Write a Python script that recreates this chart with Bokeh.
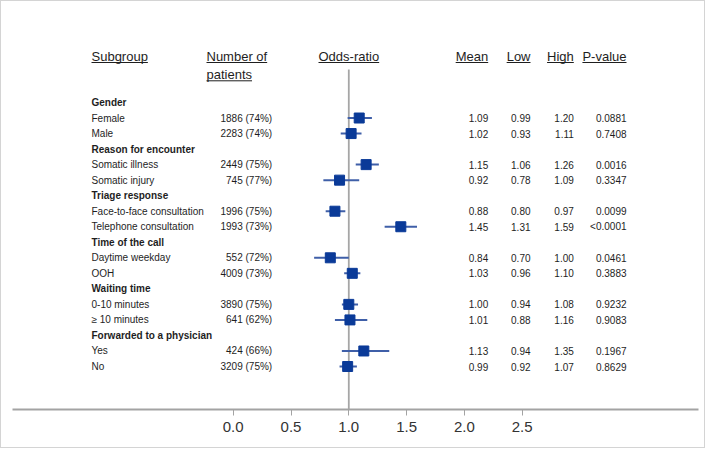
from bokeh.plotting import figure
from bokeh.models import Range1d, FixedTicker, ColumnDataSource, LinearAxis, PrintfTickFormatter
from bokeh.core.properties import value
from bokeh.embed import file_html
from bokeh.resources import INLINE

# ---------------- data ----------------
groups = ["Gender", "Reason for encounter", "Triage response",
          "Time of the call", "Waiting time", "Forwarded to a physician"]
subgroups = [["Female", "Male"],
             ["Somatic illness", "Somatic injury"],
             ["Face-to-face consultation", "Telephone consultation"],
             ["Daytime weekday", "OOH"],
             ["0-10 minutes", "\u2265 10 minutes"],
             ["Yes", "No"]]
n_patients = [1886, 2283, 2449, 745, 1996, 1993, 552, 4009, 3890, 641, 424, 3209]
pct_patients = [74, 74, 75, 77, 75, 73, 72, 73, 75, 62, 66, 75]
or_mean = [1.09, 1.02, 1.15, 0.92, 0.88, 1.45, 0.84, 1.03, 1.00, 1.01, 1.13, 0.99]
or_low = [0.99, 0.93, 1.06, 0.78, 0.80, 1.31, 0.70, 0.96, 0.94, 0.88, 0.94, 0.92]
or_high = [1.20, 1.11, 1.26, 1.09, 0.97, 1.59, 1.00, 1.10, 1.08, 1.16, 1.35, 1.07]
p_values = ["0.0881", "0.7408", "0.0016", "0.3347", "0.0099", "<0.0001",
            "0.0461", "0.3883", "0.9232", "0.9083", "0.1967", "0.8629"]
x_ticks = [0.0, 0.5, 1.0, 1.5, 2.0, 2.5]
headers = ["Subgroup", "Number of", "patients", "Odds-ratio", "Mean", "Low", "High", "P-value"]

# ---------------- layout helpers ----------------
W, H = 705, 448
ML, MR, MB = 11, 8, 40
FW = W - ML - MR
FH = H - MB
PX_UNIT = 115.6          # pixels per odds-ratio unit
X0_PX = 231.7 - ML       # frame pixel of x = 0
ROW_PX = 15.53           # pixels per row
ROW0_PX = 101.0          # frame pixel of first row
x_start = -X0_PX / PX_UNIT
x_end = (FW - X0_PX) / PX_UNIT
y_top = -ROW0_PX / ROW_PX
y_bot = (FH - ROW0_PX) / ROW_PX


def fx(px):  # page x pixel -> data x
    return (px - ML - X0_PX) / PX_UNIT


def fy(py):  # page y pixel -> data row
    return (py - ROW0_PX) / ROW_PX


# Arial / Liberation Sans advance widths (per 1000 em)
AW = {" ": 278, "S": 667, "u": 556, "b": 556, "g": 556, "r": 333, "o": 556,
      "p": 556, "N": 722, "m": 833, "e": 556, "f": 278, "a": 556, "t": 278,
      "i": 222, "n": 556, "s": 500, "O": 778, "d": 556, "-": 333, "M": 833,
      "L": 556, "w": 722, "H": 722, "h": 556, "P": 667, "v": 500, "l": 222}


def text_w(s, size):
    return sum(AW.get(c, 556) for c in s) * size / 1000.0


# ---------------- rows ----------------
grp_rows, grp_y = [], []
item_labels, item_y = [], []
r = 0
for g, subs in zip(groups, subgroups):
    grp_rows.append(g)
    grp_y.append(r)
    r += 1
    for s in subs:
        item_labels.append(s)
        item_y.append(r)
        r += 1

src = ColumnDataSource(dict(
    y=item_y, label=item_labels,
    n=[f"{a} ({b}%)" for a, b in zip(n_patients, pct_patients)],
    mean=or_mean, low=or_low, high=or_high,
    mean_s=[f"{v:.2f}" for v in or_mean],
    low_s=[f"{v:.2f}" for v in or_low],
    high_s=[f"{v:.2f}" for v in or_high],
    p=p_values,
))

p = figure(width=W, height=H, output_backend="svg", toolbar_location=None,
           x_range=Range1d(x_start, x_end), y_range=Range1d(y_bot, y_top),
           min_border_left=ML, min_border_right=MR, min_border_top=0,
           min_border_bottom=MB, x_axis_location=None, y_axis_location=None)
p.grid.visible = False
p.outline_line_color = None
p.background_fill_color = "white"
p.border_fill_color = "white"
p.styles = {"border": "1px solid #d4d4d4"}

xaxis = LinearAxis(ticker=FixedTicker(ticks=x_ticks),
                   formatter=PrintfTickFormatter(format="%.1f"))
xaxis.axis_line_color = "#a3a3a3"
xaxis.axis_line_width = 2
xaxis.major_tick_line_color = "#a3a3a3"
xaxis.major_tick_line_width = 1
xaxis.major_tick_out = 6
xaxis.major_tick_in = 0
xaxis.minor_tick_line_color = None
xaxis.major_label_text_font = "Liberation Sans"
xaxis.major_label_text_font_size = "15px"
xaxis.major_label_text_color = "#333333"
xaxis.major_label_standoff = 6
p.add_layout(xaxis, "below")

FONT = value("Liberation Sans")
TXT = "#1e1e1e"

# reference line at OR = 1
p.segment(x0=[1.0], y0=[fy(68)], x1=[1.0], y1=[y_bot], line_color="#a6a6a6", line_width=1.8)

# CIs and points
p.segment(x0="low", y0="y", x1="high", y1="y", source=src, line_color="#3f5fa8", line_width=2)
p.scatter(x="mean", y="y", source=src, marker="square", size=10,
          fill_color="#0a3a98", line_color="#0a3a98")

# group headers
p.text(x=[fx(90)] * len(grp_rows), y=grp_y, text=grp_rows, text_font=FONT,
       text_font_size=value("10px"), text_font_style="bold", text_baseline="middle",
       text_align="left", text_color=TXT)
# item labels
p.text(x=fx(90), y="y", text="label", source=src, text_font=FONT,
       text_font_size=value("10px"), text_baseline="middle", text_align="left", text_color=TXT)
# columns (right aligned)
for col, px in [("n", 270.7), ("mean_s", 486.7), ("low_s", 529), ("high_s", 572.3), ("p", 625)]:
    p.text(x=fx(px), y="y", text=col, source=src, text_font=FONT,
           text_font_size=value("10px"), text_baseline="middle", text_align="right",
           text_color=TXT)

# column headers with underline
HS = 13
hdr_pos = [  # (text, page x, page y, align)
    (headers[0], 90, 55, "left"),
    (headers[1], 205, 55, "left"),
    (headers[2], 205, 73.3, "left"),
    (headers[3], 317, 55, "left"),
    (headers[4], 486.7, 55, "right"),
    (headers[5], 529, 55, "right"),
    (headers[6], 572.3, 55, "right"),
    (headers[7], 625, 55, "right"),
]
hx, hy, ht, ha = [], [], [], []
ux0, ux1, uy = [], [], []
for t, px, py, al in hdr_pos:
    w = text_w(t, HS)
    left = px if al == "left" else px - w
    hx.append(fx(px)); hy.append(fy(py)); ht.append(t); ha.append(al)
    ux0.append(fx(left)); ux1.append(fx(left + w)); uy.append(fy(py + 6))
hsrc = ColumnDataSource(dict(x=hx, y=hy, t=ht, a=ha))
p.text(x="x", y="y", text="t", text_align="a", source=hsrc, text_font=FONT,
       text_font_size=value("13px"), text_baseline="middle", text_color=TXT)
p.segment(x0=ux0, y0=uy, x1=ux1, y1=uy, line_color=TXT, line_width=1)

open("out.html", "w").write(file_html(p, INLINE))
